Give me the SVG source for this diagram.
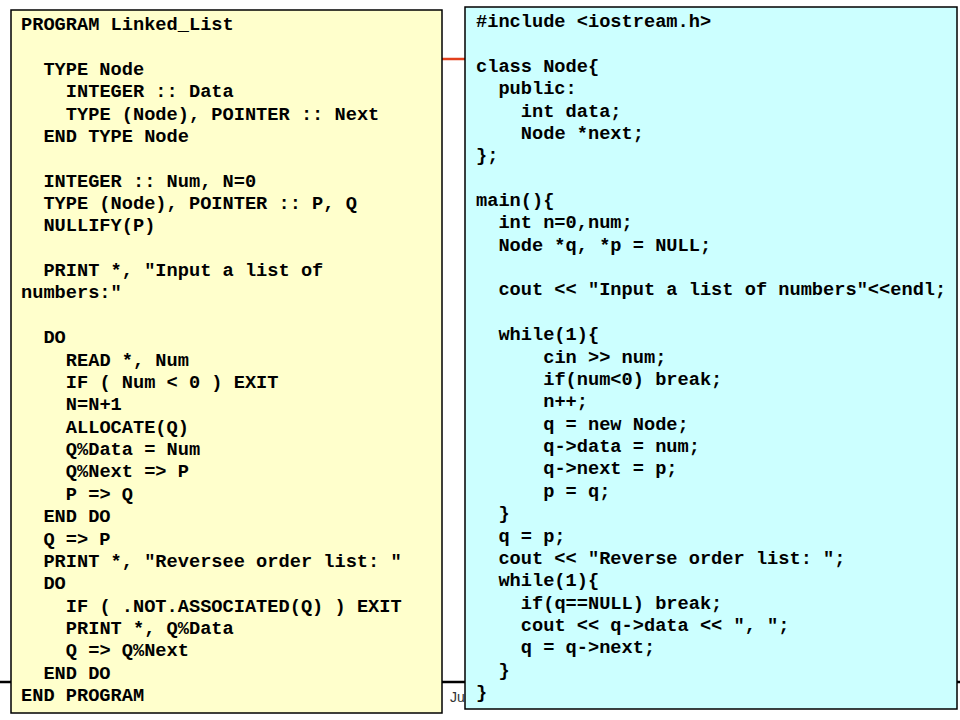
<svg xmlns="http://www.w3.org/2000/svg" width="960" height="720" viewBox="0 0 960 720">
<style>
.box{stroke:#000;stroke-width:1.5}
.code{font-family:"Liberation Mono","Courier New",monospace;font-size:18.67px;font-weight:bold;fill:#000}
.foot{font-family:"Liberation Sans",Arial,sans-serif;font-size:14px;fill:#333}
</style>
<rect width="960" height="720" fill="#fff"/>
<g id="connectors">
<line x1="0" y1="682" x2="960" y2="682" stroke="#000" stroke-width="2.5"/>
<line x1="440" y1="59" x2="467" y2="59" stroke="#E2401C" stroke-width="2.5"/>
</g>
<text class="foot" x="450" y="702">Ju</text>
<g id="fortran">
<rect class="box" x="11" y="10" width="431" height="703" fill="#FFFFCC"/>
<g class="code">
<text x="21" y="30">PROGRAM Linked_List</text>
<text x="43.4" y="74.7">TYPE Node</text>
<text x="65.8" y="97.1">INTEGER :: Data</text>
<text x="65.8" y="119.5">TYPE (Node), POINTER :: Next</text>
<text x="43.4" y="141.9">END TYPE Node</text>
<text x="43.4" y="186.6">INTEGER :: Num, N=0</text>
<text x="43.4" y="209">TYPE (Node), POINTER :: P, Q</text>
<text x="43.4" y="231.3">NULLIFY(P)</text>
<text x="43.4" y="276.1">PRINT *, "Input a list of</text>
<text x="21" y="298.4">numbers:"</text>
<text x="43.4" y="343.2">DO</text>
<text x="65.8" y="365.6">READ *, Num</text>
<text x="65.8" y="387.9">IF ( Num &lt; 0 ) EXIT</text>
<text x="65.8" y="410.3">N=N+1</text>
<text x="65.8" y="432.7">ALLOCATE(Q)</text>
<text x="65.8" y="455">Q%Data = Num</text>
<text x="65.8" y="477.4">Q%Next =&gt; P</text>
<text x="65.8" y="499.8">P =&gt; Q</text>
<text x="43.4" y="522.1">END DO</text>
<text x="43.4" y="544.5">Q =&gt; P</text>
<text x="43.4" y="566.9" xml:space="preserve">PRINT *, "Reversee order list: "</text>
<text x="43.4" y="589.3">DO</text>
<text x="65.8" y="611.6">IF ( .NOT.ASSOCIATED(Q) ) EXIT</text>
<text x="65.8" y="634">PRINT *, Q%Data</text>
<text x="65.8" y="656.4">Q =&gt; Q%Next</text>
<text x="43.4" y="678.7">END DO</text>
<text x="21" y="701.1">END PROGRAM</text>
</g>
</g>
<g id="cpp">
<rect class="box" x="465" y="7" width="492" height="702" fill="#CCFFFF"/>
<g class="code">
<text x="476" y="27">#include &lt;iostream.h&gt;</text>
<text x="476" y="71.7">class Node{</text>
<text x="498.4" y="94.1">public:</text>
<text x="520.8" y="116.5">int data;</text>
<text x="520.8" y="138.9">Node *next;</text>
<text x="476" y="161.2">};</text>
<text x="476" y="206">main(){</text>
<text x="498.4" y="228.3">int n=0,num;</text>
<text x="498.4" y="250.7">Node *q, *p = NULL;</text>
<text x="498.4" y="295.4">cout &lt;&lt; "Input a list of numbers"&lt;&lt;endl;</text>
<text x="498.4" y="340.2">while(1){</text>
<text x="543.2" y="362.6">cin &gt;&gt; num;</text>
<text x="543.2" y="384.9">if(num&lt;0) break;</text>
<text x="543.2" y="407.3">n++;</text>
<text x="543.2" y="429.7">q = new Node;</text>
<text x="543.2" y="452">q-&gt;data = num;</text>
<text x="543.2" y="474.4">q-&gt;next = p;</text>
<text x="543.2" y="496.8">p = q;</text>
<text x="498.4" y="519.1">}</text>
<text x="498.4" y="541.5">q = p;</text>
<text x="498.4" y="563.9" xml:space="preserve">cout &lt;&lt; "Reverse order list: ";</text>
<text x="498.4" y="586.3">while(1){</text>
<text x="520.8" y="608.6">if(q==NULL) break;</text>
<text x="520.8" y="631" xml:space="preserve">cout &lt;&lt; q-&gt;data &lt;&lt; ", ";</text>
<text x="520.8" y="653.4">q = q-&gt;next;</text>
<text x="498.4" y="675.7">}</text>
<text x="476" y="698.1">}</text>
</g>
</g>
</svg>
